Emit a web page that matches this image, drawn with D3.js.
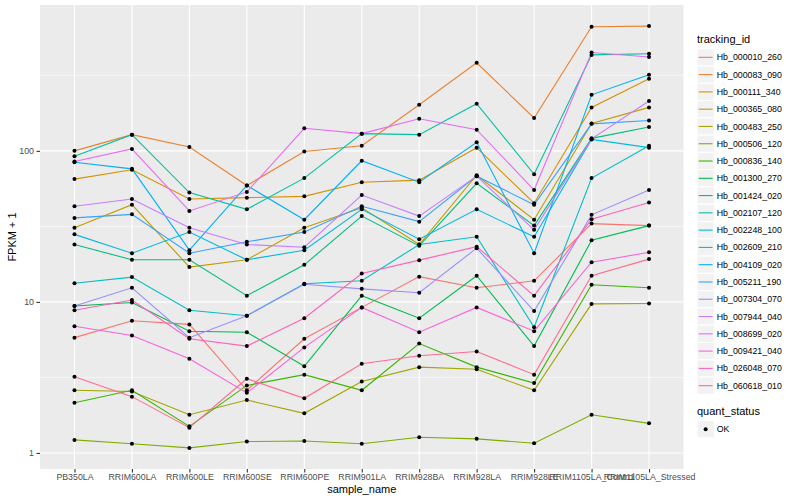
<!DOCTYPE html>
<html>
<head>
<meta charset="utf-8">
<script src="https://cdn.jsdelivr.net/npm/d3@7/dist/d3.min.js"></script>
<style>
  body { margin: 0; background: #fff; }
  text { font-family: 'Liberation Sans', Arial, sans-serif; }
</style>
</head>
<body>
<script>
// sample order on the x axis
const samples = ['PB350LA', 'RRIM600LA', 'RRIM600LE', 'RRIM600SE', 'RRIM600PE', 'RRIM901LA',
  'RRIM928BA', 'RRIM928LA', 'RRIM928LE', 'RRIM1105LA_Control', 'RRIM1105LA_Stressed']

const trackingIds = ['Hb_000010_260', 'Hb_000083_090', 'Hb_000111_340', 'Hb_000365_080', 'Hb_000483_250',
  'Hb_000506_120', 'Hb_000836_140', 'Hb_001300_270', 'Hb_001424_020', 'Hb_002107_120', 'Hb_002248_100',
  'Hb_002609_210', 'Hb_004109_020', 'Hb_005211_190', 'Hb_007304_070', 'Hb_007944_040', 'Hb_008699_020',
  'Hb_009421_040', 'Hb_026048_070', 'Hb_060618_010']

// ggplot default hue palette for 20 levels
const hueColors = ['#F8766D', '#EA8331', '#D89000', '#C09B00', '#A3A500', '#7CAE00', '#39B600', '#00BB4E',
  '#00BF7D', '#00C1A3', '#00BFC4', '#00BAE0', '#00B0F6', '#35A2FF', '#9590FF', '#C77CFF', '#E76BF3',
  '#FA62DB', '#FF62BC', '#FF6C91']

// FPKM + 1, one value per sample
const hb000010_260 = [5.8, 7.5, 7.1, 2.6, 5.7, 9.2, 14.7, 12.4, 13.8, 33, 32]
const hb000083_090 = [100, 128, 106, 59, 99, 108, 202, 383, 165, 663, 670]
const hb000111_340 = [65, 75, 48, 49, 50, 62, 64, 105, 45, 194, 300]
const hb000365_080 = [31, 44, 17, 19, 31, 42, 24, 69, 35, 152, 194]
const hb000483_250 = [2.6, 2.55, 1.79, 2.24, 1.83, 2.97, 3.7, 3.58, 2.6, 9.7, 9.75]
const hb000506_120 = [1.22, 1.15, 1.08, 1.19, 1.2, 1.15, 1.27, 1.24, 1.16, 1.79, 1.57]
const hb000836_140 = [2.15, 2.6, 1.5, 2.8, 3.3, 2.6, 5.3, 3.7, 2.9, 13, 12.4]
const hb001300_270 = [9.4, 9.9, 6.4, 6.3, 3.75, 11, 7.8, 14.9, 5.1, 25.6, 32]
const hb001424_020 = [24, 19, 19, 11, 17.6, 37, 23.5, 61, 32, 121, 144]
const hb002107_120 = [92, 128, 53, 41, 66, 130, 128, 205, 70, 432, 439]
const hb002248_100 = [13.3, 14.6, 8.8, 8.1, 13.2, 13.8, 24, 27, 6.8, 66, 108]
const hb002609_210 = [28, 21, 29, 19, 22, 41, 26, 41, 27, 119, 105]
const hb004109_020 = [84, 76, 22, 59, 35, 86, 62, 114, 21, 235, 319]
const hb005211_190 = [36, 38, 21, 25, 29, 43, 34, 68, 44, 151, 159]
const hb007304_070 = [9.4, 12.4, 5.8, 8.1, 13.1, 12.2, 11.5, 22.7, 8.7, 37.7, 55]
const hb007944_040 = [43, 48, 31, 24, 23, 51, 37, 68, 30, 120, 214]
const hb008699_020 = [85, 103, 40, 53.5, 141, 130, 163, 138, 55, 448, 418]
const hb009421_040 = [6.9, 6.0, 4.2, 2.5, 5.0, 9.2, 6.3, 9.2, 6.4, 18.3, 21.3]
const hb026048_070 = [8.8, 10.3, 5.7, 5.1, 7.8, 15.4, 18.9, 23.2, 11, 35.3, 45.5]
const hb060618_010 = [3.2, 2.36, 1.47, 3.1, 2.3, 3.9, 4.4, 4.7, 3.3, 14.9, 19.2]

const yBreaks = [1, 10, 100]
const yMinor = [Math.sqrt(10), Math.sqrt(1000), Math.sqrt(100000)]

const seriesValues = [hb000010_260, hb000083_090, hb000111_340, hb000365_080, hb000483_250,
  hb000506_120, hb000836_140, hb001300_270, hb001424_020, hb002107_120, hb002248_100,
  hb002609_210, hb004109_020, hb005211_190, hb007304_070, hb007944_040, hb008699_020,
  hb009421_040, hb026048_070, hb060618_010]

const series = trackingIds.map((id, i) => ({
  id,
  color: hueColors[i],
  points: seriesValues[i].map((v, j) => ({ sample: samples[j], value: v }))
}))

const width = 800
const height = 500
const panel = { left: 40, right: 683.5, top: 5, bottom: 469 }

const svg = d3.select('body').append('svg')
  .attr('width', width)
  .attr('height', height)

// ggplot style 5% expansion in log space
const allValues = seriesValues.flat()
const lo = Math.log10(d3.min(allValues))
const hi = Math.log10(d3.max(allValues))
const pad = (hi - lo) * 0.05

const x = d3.scalePoint()
  .domain(samples)
  .range([panel.left, panel.right])
  .padding(0.6)

const y = d3.scaleLog()
  .domain([Math.pow(10, lo - pad), Math.pow(10, hi + pad)])
  .range([panel.bottom, panel.top])

svg.append('rect')
  .attr('x', panel.left)
  .attr('y', panel.top)
  .attr('width', panel.right - panel.left)
  .attr('height', panel.bottom - panel.top)
  .attr('fill', '#EBEBEB')

const grid = svg.append('g').attr('stroke', '#fff').attr('fill', 'none')
grid.selectAll('.minor')
  .data(yMinor)
  .join('line')
  .attr('class', 'minor')
  .attr('x1', panel.left).attr('x2', panel.right)
  .attr('y1', d => y(d)).attr('y2', d => y(d))
  .attr('stroke-width', 0.55)
grid.selectAll('.major')
  .data(yBreaks)
  .join('line')
  .attr('class', 'major')
  .attr('x1', panel.left).attr('x2', panel.right)
  .attr('y1', d => y(d)).attr('y2', d => y(d))
  .attr('stroke-width', 1.1)
grid.selectAll('.vmajor')
  .data(samples)
  .join('line')
  .attr('class', 'vmajor')
  .attr('x1', d => x(d)).attr('x2', d => x(d))
  .attr('y1', panel.top).attr('y2', panel.bottom)
  .attr('stroke-width', 1.1)

const line = d3.line()
  .x(d => x(d.sample))
  .y(d => y(d.value))

svg.append('g')
  .attr('fill', 'none')
  .attr('stroke-width', 1.1)
  .selectAll('path')
  .data(series)
  .join('path')
  .attr('stroke', d => d.color)
  .attr('d', d => line(d.points))

svg.append('g')
  .selectAll('circle')
  .data(series.flatMap(s => s.points))
  .join('circle')
  .attr('cx', d => x(d.sample))
  .attr('cy', d => y(d.value))
  .attr('r', 2)
  .attr('fill', '#000')

// axes
const yAxis = d3.axisLeft(y)
  .tickValues(yBreaks)
  .tickFormat(d3.format('d'))
  .tickSize(3.5)
  .tickPadding(2.5)

const xAxis = d3.axisBottom(x)
  .tickSize(3.5)
  .tickPadding(1.5)

const gy = svg.append('g')
  .attr('transform', `translate(${panel.left},0)`)
  .call(yAxis)
const gx = svg.append('g')
  .attr('transform', `translate(0,${panel.bottom})`)
  .call(xAxis)

for (const g of [gx, gy]) {
  g.select('.domain').remove()
  g.selectAll('.tick line').attr('stroke', '#333333').attr('stroke-width', 1.1)
  g.selectAll('.tick text')
    .attr('fill', '#4D4D4D')
    .attr('font-size', 8.8)
    .attr('font-family', "'Liberation Sans', Arial, sans-serif")
}

svg.append('text')
  .attr('x', (panel.left + panel.right) / 2)
  .attr('y', 493)
  .attr('text-anchor', 'middle')
  .attr('font-size', 11)
  .text('sample_name')

svg.append('text')
  .attr('transform', `translate(16,${(panel.top + panel.bottom) / 2}) rotate(-90)`)
  .attr('text-anchor', 'middle')
  .attr('font-size', 11)
  .text('FPKM + 1')

// legend: tracking_id
const legX = 697
const keySize = 17.28
const legTop = 48.7

const leg = svg.append('g')
leg.append('text')
  .attr('x', legX)
  .attr('y', legTop - 6)
  .attr('font-size', 11)
  .text('tracking_id')

const item = leg.selectAll('g.item')
  .data(series)
  .join('g')
  .attr('class', 'item')
  .attr('transform', (d, i) => `translate(${legX},${legTop + i * keySize})`)

item.append('rect')
  .attr('width', keySize)
  .attr('height', keySize)
  .attr('fill', '#F2F2F2')
  .attr('stroke', '#fff')
  .attr('stroke-width', 1.1)
item.append('line')
  .attr('x1', 1.7).attr('x2', keySize - 1.7)
  .attr('y1', keySize / 2).attr('y2', keySize / 2)
  .attr('stroke', d => d.color)
  .attr('stroke-width', 1.1)
item.append('text')
  .attr('x', keySize + 2.5)
  .attr('y', keySize / 2)
  .attr('dy', '0.35em')
  .attr('font-size', 8.8)
  .text(d => d.id)

// legend: quant_status
const qTop = 420.5
leg.append('text')
  .attr('x', legX)
  .attr('y', qTop - 6)
  .attr('font-size', 11)
  .text('quant_status')
const q = leg.append('g').attr('transform', `translate(${legX},${qTop})`)
q.append('rect')
  .attr('width', keySize)
  .attr('height', keySize)
  .attr('fill', '#F2F2F2')
  .attr('stroke', '#fff')
  .attr('stroke-width', 1.1)
q.append('circle')
  .attr('cx', keySize / 2)
  .attr('cy', keySize / 2)
  .attr('r', 2)
  .attr('fill', '#000')
q.append('text')
  .attr('x', keySize + 2.5)
  .attr('y', keySize / 2)
  .attr('dy', '0.35em')
  .attr('font-size', 8.8)
  .text('OK')
</script>
</body>
</html>
